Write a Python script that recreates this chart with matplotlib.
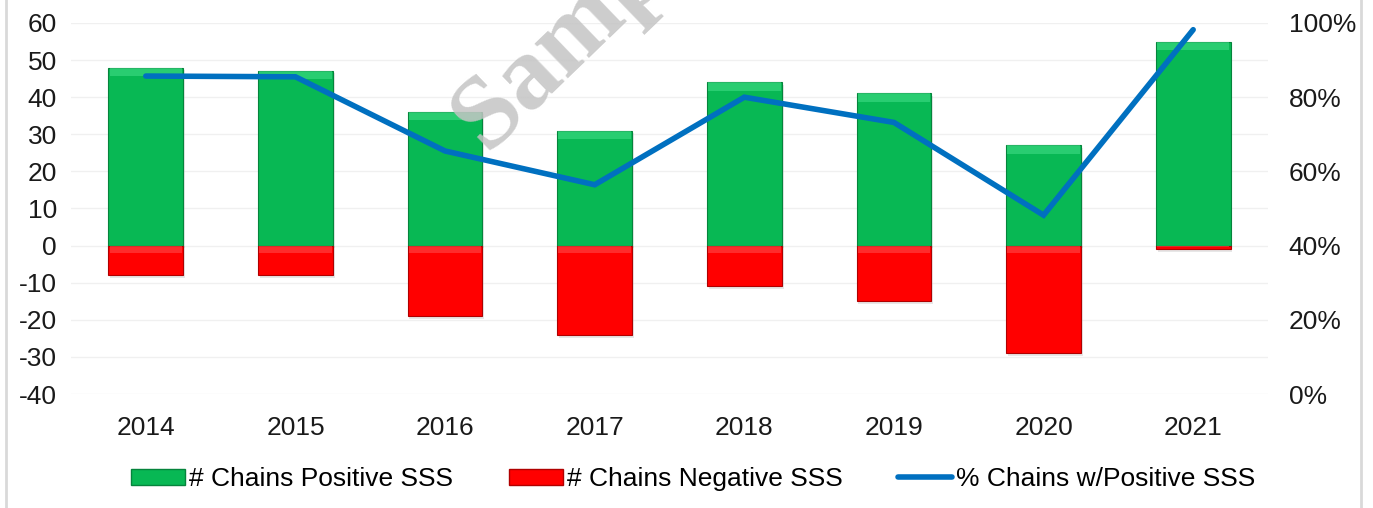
import matplotlib
matplotlib.use("Agg")
import matplotlib.pyplot as plt
from matplotlib.lines import Line2D
from matplotlib.patches import Patch
import numpy as np

years = ["2014", "2015", "2016", "2017", "2018", "2019", "2020", "2021"]
positive = [48, 47, 36, 31, 44, 41, 27, 55]
negative = [-8, -8, -19, -24, -11, -15, -29, -1]
pct_positive = [85.7, 85.5, 65.5, 56.4, 80.0, 73.2, 48.2, 98.2]
left_ticks = [-40, -30, -20, -10, 0, 10, 20, 30, 40, 50, 60]
right_ticks = [0, 20, 40, 60, 80, 100]
legend_labels = ["# Chains Positive SSS", "# Chains Negative SSS", "% Chains w/Positive SSS"]

GREEN = "#08B854"
GREEN_DARK = "#05843C"
GREEN_LIGHT = "#45E08A"
RED = "#FF0000"
RED_DARK = "#B00000"
RED_LIGHT = "#FF5050"
BLUE = "#0070C0"
FS = 19

plt.rcParams["font.family"] = ["Liberation Sans", "DejaVu Sans"]

fig = plt.figure(figsize=(13.73, 5.08), dpi=100)
ax = fig.add_axes([71/1373, 1-394/508, (1268-71)/1373, (394-23)/508])
x = np.arange(len(years))
w = 0.5

# shadows
ax.bar(x + 0.012, positive, w, bottom=[-0.6]*len(x), color="#bbbbbb", alpha=0.35, zorder=1)
ax.bar(x + 0.012, [n - 0.8 for n in negative], w, color="#bbbbbb", alpha=0.35, zorder=1)

ax.bar(x, positive, w, color=GREEN, edgecolor=GREEN_DARK, linewidth=0.8, zorder=2)
ax.bar(x, negative, w, color=RED, edgecolor=RED_DARK, linewidth=0.8, zorder=2)
# bevel highlights
hp = [min(2.2, p * 0.3) for p in positive]
ax.bar(x, hp, w * 0.97, bottom=[p - h for p, h in zip(positive, hp)], color=GREEN_LIGHT, alpha=0.55, linewidth=0, zorder=3)
hn = [max(-2.0, n * 0.3) for n in negative]
ax.bar(x, hn, w * 0.97, color=RED_LIGHT, alpha=0.55, linewidth=0, zorder=3)

ax.set_ylim(-40, 60)
ax.set_xlim(-0.5, len(years) - 0.5)
ax.set_yticks(left_ticks)
ax.set_yticklabels([str(t) for t in left_ticks])
ax.set_xticks(x)
ax.set_xticklabels(years)
ax.tick_params(axis="both", length=0, labelsize=FS, colors="#1a1a1a")
ax.tick_params(axis="x", pad=16)
ax.tick_params(axis="y", pad=10)
for s in ax.spines.values():
    s.set_visible(False)
ax.grid(axis="y", color="#f0f0f0", linewidth=1)
ax.set_axisbelow(True)

ax2 = ax.twinx()
ax2.plot(x, pct_positive, color=BLUE, linewidth=4, solid_capstyle="round", solid_joinstyle="miter", zorder=5)
ax2.set_ylim(0, 100)
ax2.set_yticks(right_ticks)
ax2.set_yticklabels([f"{t}%" for t in right_ticks])
ax2.tick_params(axis="y", length=0, labelsize=FS, colors="#1a1a1a", pad=15)
for s in ax2.spines.values():
    s.set_visible(False)

# watermark
fig.text(486, 508 - 152, "Sample", transform=None, fontsize=75, fontweight="bold",
         family="Liberation Serif", color="#c4c4c4", alpha=0.85, rotation=44,
         rotation_mode="anchor", ha="left", va="baseline", zorder=10)

handles = [Patch(facecolor=GREEN, edgecolor=GREEN_DARK),
           Patch(facecolor=RED, edgecolor=RED_DARK),
           Line2D([0], [0], color=BLUE, linewidth=4, solid_capstyle="round")]
fig.legend(handles, legend_labels, loc="center", bbox_to_anchor=(0.505, 1 - 479/508),
           ncol=3, frameon=False, fontsize=FS, handlelength=2.05, handleheight=0.55,
           handletextpad=0.15, columnspacing=2.1)

# frame lines
fig.add_artist(Line2D([6/1373, 6/1373], [0, 1], color="#d9d9d9", linewidth=2, transform=fig.transFigure))
fig.add_artist(Line2D([1361/1373, 1361/1373], [0, 1], color="#d9d9d9", linewidth=2, transform=fig.transFigure))

fig.savefig("out.png", dpi=100)
